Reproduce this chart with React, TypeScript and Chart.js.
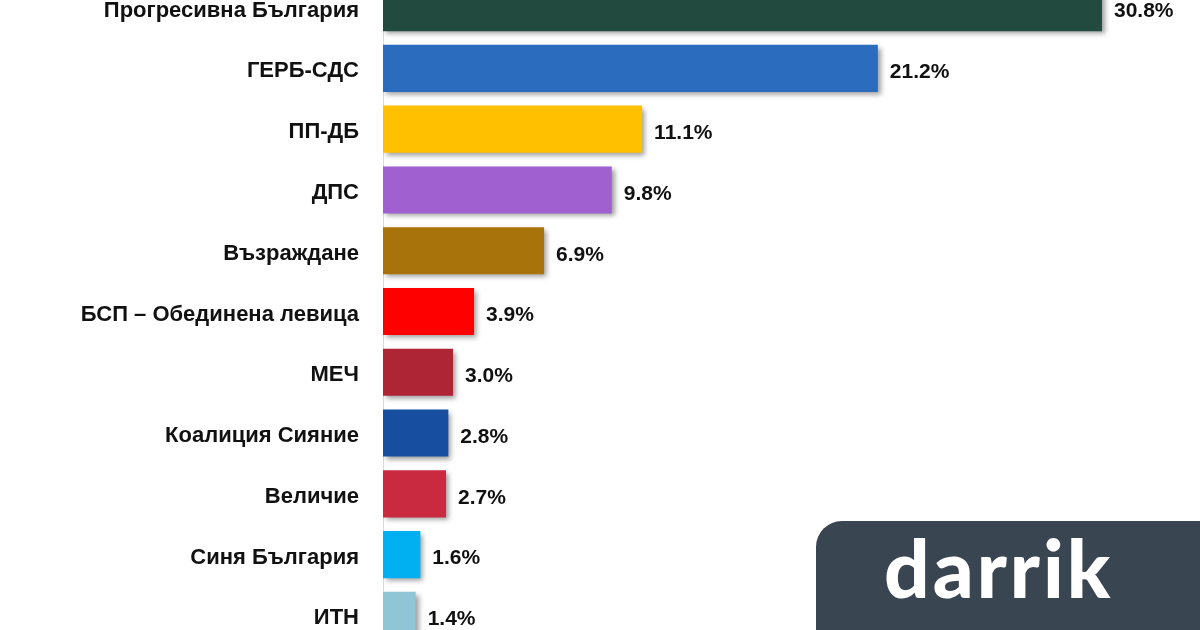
import React, { useEffect, useRef } from "react";
import { Chart, registerables } from "chart.js";

Chart.register(...registerables);

const categories = [
  "Прогресивна България",
  "ГЕРБ-СДС",
  "ПП-ДБ",
  "ДПС",
  "Възраждане",
  "БСП – Обединена левица",
  "МЕЧ",
  "Коалиция Сияние",
  "Величие",
  "Синя България",
  "ИТН",
];

const values = [30.8, 21.2, 11.1, 9.8, 6.9, 3.9, 3.0, 2.8, 2.7, 1.6, 1.4];

const barColors = [
  "#234a3f",
  "#2b6cbf",
  "#ffc000",
  "#a060d0",
  "#a7730a",
  "#ff0000",
  "#ae2535",
  "#174ea0",
  "#c92a40",
  "#00b0f0",
  "#90c5d5",
];

const FONT = '"Liberation Sans", Arial, sans-serif';

const shadowAndLabels = {
  id: "shadowAndLabels",
  beforeDatasetsDraw(chart: any) {
    const ctx = chart.ctx;
    ctx.save();
    ctx.shadowColor = "rgba(0,0,0,0.38)";
    ctx.shadowBlur = 5;
    ctx.shadowOffsetX = 3;
    ctx.shadowOffsetY = 3;
  },
  afterDatasetsDraw(chart: any) {
    const ctx = chart.ctx;
    ctx.restore();
    ctx.save();
    ctx.font = `bold 21px ${FONT}`;
    ctx.fillStyle = "#111111";
    ctx.textAlign = "left";
    ctx.textBaseline = "middle";
    const meta = chart.getDatasetMeta(0);
    meta.data.forEach((el: any, i: number) => {
      const v = chart.data.datasets[0].data[i] as number;
      ctx.fillText(v.toFixed(1) + "%", el.x + 12, el.y + 4);
    });
    ctx.restore();
  },
};

export default function App() {
  const ref = useRef<HTMLCanvasElement | null>(null);

  useEffect(() => {
    document.body.style.overflow = "hidden";
    document.body.style.background = "#ffffff";
    const canvas = ref.current!;
    const chart = new Chart(canvas, {
      type: "bar",
      data: {
        labels: categories,
        datasets: [
          {
            data: values,
            backgroundColor: barColors,
            borderWidth: 0,
            categoryPercentage: 1,
            barPercentage: 0.775,
          },
        ],
      },
      options: {
        indexAxis: "y",
        animation: false,
        responsive: false,
        devicePixelRatio: 1,
        layout: { padding: 0 },
        plugins: {
          legend: { display: false },
          tooltip: { enabled: false },
          title: { display: false },
        },
        scales: {
          x: {
            display: false,
            min: 0,
            max: 35,
          },
          y: {
            afterFit(scale: any) {
              scale.width = 383;
            },
            grid: { display: false, drawTicks: false },
            border: { display: true, color: "#d9d9d9", width: 1 },
            ticks: {
              padding: 24,
              labelOffset: 3,
              color: "#111111",
              font: { family: FONT, size: 22, weight: "bold" },
            },
          },
        },
      },
      plugins: [shadowAndLabels],
    });
    return () => chart.destroy();
  }, []);

  return (
    <>
      <div
        style={{
          position: "fixed",
          left: 0,
          top: -60,
          width: 1200,
          height: 743,
          background: "#ffffff",
        }}
      >
        <canvas ref={ref} width={1200} height={743} />
      </div>
      <div
        style={{
          position: "fixed",
          left: 816,
          top: 521,
          width: 420,
          height: 130,
          background: "#3a4552",
          borderTopLeftRadius: 26,
          color: "#ffffff",
          fontFamily: 'Lato, "Open Sans", sans-serif',
          fontWeight: 900,
          fontSize: 80,
          lineHeight: "80px",
          letterSpacing: 3,
          paddingLeft: 68,
          paddingTop: 6,
          boxSizing: "border-box",
        }}
      >
        darrik
      </div>
    </>
  );
}
